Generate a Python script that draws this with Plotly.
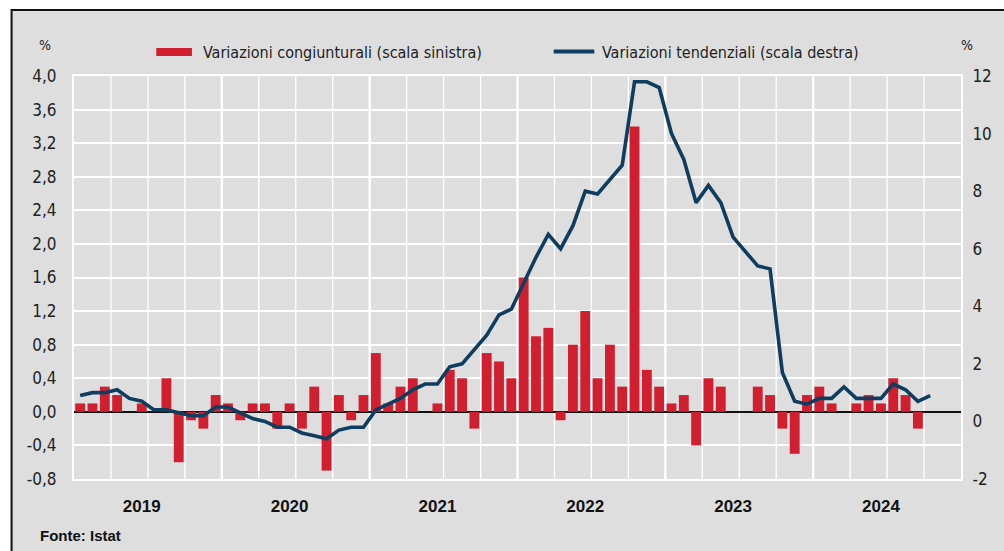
import plotly.graph_objects as go

# Monthly CPI changes, January 2019 - October 2024 (Istat NIC)
years = ["2019", "2020", "2021", "2022", "2023", "2024"]

# month-on-month change, % (left scale)
cong_2019 = [0.1, 0.1, 0.3, 0.2, 0.0, 0.1, 0.0, 0.4, -0.6, -0.1, -0.2, 0.2]
cong_2020 = [0.1, -0.1, 0.1, 0.1, -0.2, 0.1, -0.2, 0.3, -0.7, 0.2, -0.1, 0.2]
cong_2021 = [0.7, 0.1, 0.3, 0.4, 0.0, 0.1, 0.5, 0.4, -0.2, 0.7, 0.6, 0.4]
cong_2022 = [1.6, 0.9, 1.0, -0.1, 0.8, 1.2, 0.4, 0.8, 0.3, 3.4, 0.5, 0.3]
cong_2023 = [0.1, 0.2, -0.4, 0.4, 0.3, 0.0, 0.0, 0.3, 0.2, -0.2, -0.5, 0.2]
cong_2024 = [0.3, 0.1, 0.0, 0.1, 0.2, 0.1, 0.4, 0.2, -0.2, 0.0]

# year-on-year change, % (right scale)
tend_2019 = [0.9, 1.0, 1.0, 1.1, 0.8, 0.7, 0.4, 0.4, 0.3, 0.2, 0.2, 0.5]
tend_2020 = [0.5, 0.3, 0.1, 0.0, -0.2, -0.2, -0.4, -0.5, -0.6, -0.3, -0.2, -0.2]
tend_2021 = [0.4, 0.6, 0.8, 1.1, 1.3, 1.3, 1.9, 2.0, 2.5, 3.0, 3.7, 3.9]
tend_2022 = [4.8, 5.7, 6.5, 6.0, 6.8, 8.0, 7.9, 8.4, 8.9, 11.8, 11.8, 11.6]
tend_2023 = [10.0, 9.1, 7.6, 8.2, 7.6, 6.4, 5.9, 5.4, 5.3, 1.7, 0.7, 0.6]
tend_2024 = [0.8, 0.8, 1.2, 0.8, 0.8, 0.8, 1.3, 1.1, 0.7, 0.9]

left_tickvals = [-0.8, -0.4, 0.0, 0.4, 0.8, 1.2, 1.6, 2.0, 2.4, 2.8, 3.2, 3.6, 4.0]
left_ticktext = ["-0,8", "-0,4", "0,0", "0,4", "0,8", "1,2", "1,6", "2,0",
                 "2,4", "2,8", "3,2", "3,6", "4,0"]
right_tickvals = [-2, 0, 2, 4, 6, 8, 10, 12]
right_ticktext = ["-2", "0", "2", "4", "6", "8", "10", "12"]

cong = cong_2019 + cong_2020 + cong_2021 + cong_2022 + cong_2023 + cong_2024
tend = tend_2019 + tend_2020 + tend_2021 + tend_2022 + tend_2023 + tend_2024
x_bar = list(range(len(cong)))
x_line = list(range(len(tend)))
n_months = 12 * len(years)

RED = "#d21f2f"
NAVY = "#0f3d5f"
NARROW = "Liberation Sans Narrow, Arial Narrow, DejaVu Sans Condensed, sans-serif"
BOLD = "Liberation Sans, Arial, sans-serif"

fig = go.Figure()
fig.add_trace(go.Bar(
    x=x_bar, y=cong, marker=dict(color=RED, line=dict(width=0)),
    yaxis="y", name="Variazioni congiunturali (scala sinistra)", showlegend=False,
))
fig.add_trace(go.Scatter(
    x=x_line, y=tend, mode="lines", line=dict(color=NAVY, width=3.6),
    yaxis="y2", name="Variazioni tendenziali (scala destra)", showlegend=False,
))

shapes = []
# outer frame
shapes.append(dict(type="rect", xref="paper", yref="paper",
                   x0=(11 - 74) / 895, x1=1.2, y0=-0.4, y1=(479 - 10) / 403,
                   fillcolor="#dedede", line=dict(color="#111111", width=2),
                   layer="below"))
# quarterly vertical grid, stronger at year boundaries
for k in range(1, n_months // 3):
    xv = -0.5 + 3 * k
    is_year = (k % 4 == 0)
    shapes.append(dict(type="line", xref="x", yref="paper", x0=xv, x1=xv, y0=0, y1=1,
                       line=dict(color="#ffffff", width=2.4 if is_year else 1.3),
                       layer="between"))
# legend swatches
shapes.append(dict(type="rect", xref="paper", yref="paper",
                   x0=(157 - 74) / 895, x1=(193 - 74) / 895,
                   y0=(479 - 56) / 403, y1=(479 - 48) / 403,
                   fillcolor=RED, line=dict(width=0)))
shapes.append(dict(type="line", xref="paper", yref="paper",
                   x0=(558 - 74) / 895, x1=(599 - 74) / 895,
                   y0=(479 - 51.5) / 403, y1=(479 - 51.5) / 403,
                   line=dict(color=NAVY, width=4)))

annotations = [
    dict(text="Variazioni congiunturali (scala sinistra)", xref="paper", yref="paper",
         x=(202 - 74) / 895, y=(479 - 52) / 403, xanchor="left", yanchor="middle",
         showarrow=False, font=dict(family=NARROW, size=16, color="#222222")),
    dict(text="Variazioni tendenziali (scala destra)", xref="paper", yref="paper",
         x=(605 - 74) / 895, y=(479 - 52) / 403, xanchor="left", yanchor="middle",
         showarrow=False, font=dict(family=NARROW, size=16, color="#222222")),
    dict(text="%", xref="paper", yref="paper", x=(45 - 74) / 895, y=(479 - 45) / 403,
         xanchor="center", yanchor="middle", showarrow=False,
         font=dict(family=NARROW, size=14, color="#222222")),
    dict(text="%", xref="paper", yref="paper", x=(975 - 74) / 895, y=(479 - 45) / 403,
         xanchor="center", yanchor="middle", showarrow=False,
         font=dict(family=NARROW, size=14, color="#222222")),
    dict(text="<b>Fonte: Istat</b>", xref="paper", yref="paper",
         x=(38 - 74) / 895, y=(479 - 535) / 403, xanchor="left", yanchor="middle",
         showarrow=False, font=dict(family=BOLD, size=15, color="#111111")),
]

fig.update_layout(
    width=1004, height=551,
    margin=dict(l=74, r=35, t=76, b=72, pad=0),
    paper_bgcolor="#ffffff",
    plot_bgcolor="#d8d8d8",
    bargap=0.2,
    showlegend=False,
    shapes=shapes,
    annotations=annotations,
    xaxis=dict(
        range=[-0.5, n_months - 0.5],
        tickmode="array", tickvals=[12 * i + 5 for i in range(len(years))], ticktext=years,
        tickfont=dict(family=BOLD, size=17, color="#111111", weight="bold"),
        ticks="", ticklabelstandoff=11,
        showgrid=False, zeroline=False,
        showline=True, linecolor="#ffffff", linewidth=2, mirror=True,
    ),
    yaxis=dict(
        range=[-0.8, 4.0],
        tickmode="array", tickvals=left_tickvals, ticktext=left_ticktext,
        tickfont=dict(family=NARROW, size=17, color="#222222"),
        ticks="", ticklabelstandoff=12,
        showgrid=True, gridcolor="#ffffff", gridwidth=1.5,
        zeroline=True, zerolinecolor="#111111", zerolinewidth=2,
        showline=True, linecolor="#ffffff", linewidth=2,
    ),
    yaxis2=dict(
        range=[-2, 12], overlaying="y", side="right",
        tickmode="array", tickvals=right_tickvals, ticktext=right_ticktext,
        tickfont=dict(family=NARROW, size=17, color="#222222"),
        ticks="", ticklabelstandoff=6,
        showgrid=False, zeroline=False,
        showline=True, linecolor="#ffffff", linewidth=2,
    ),
)

fig.write_html("out.html")
